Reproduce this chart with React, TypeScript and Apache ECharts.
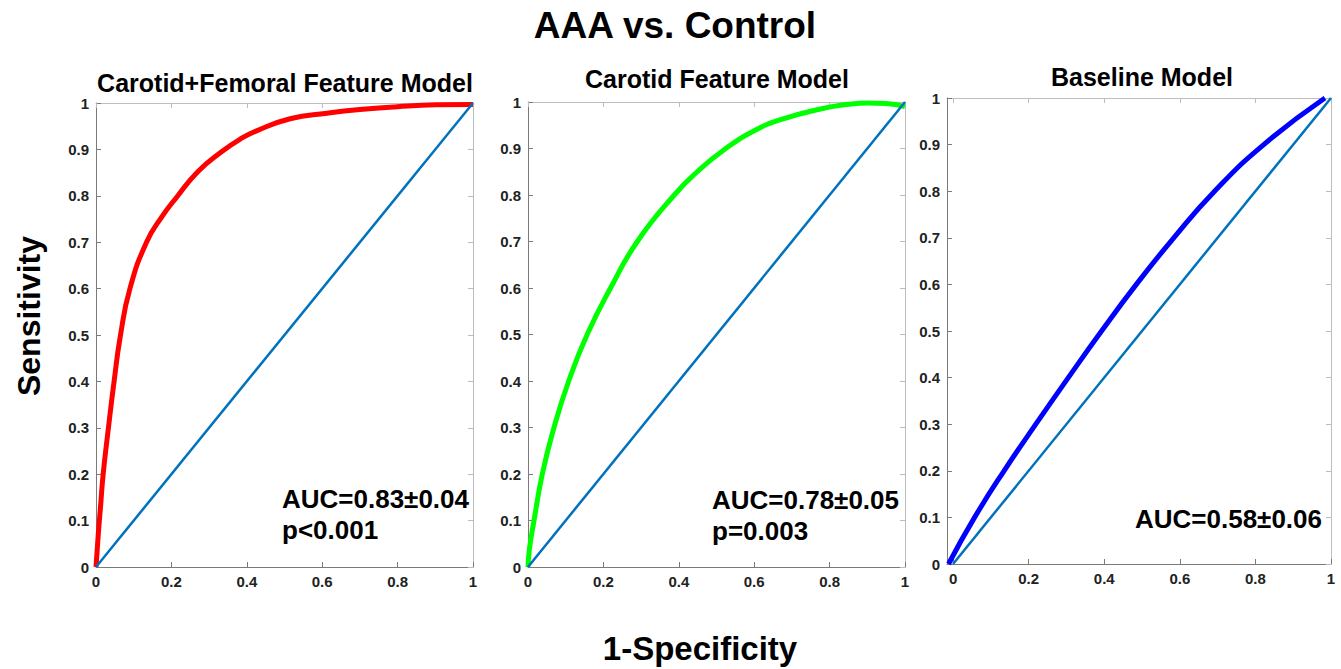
import React, { useEffect, useRef } from "react";
import * as echarts from "echarts";

// ---- data ----
const xTicks = [0, 0.2, 0.4, 0.6, 0.8, 1];
const panelTitles = ["Carotid+Femoral Feature Model", "Carotid Feature Model", "Baseline Model"];
const mainTitle = "AAA vs. Control";
const yAxisName = "Sensitivity";
const xAxisName = "1-Specificity";

const cfFpr = [0, 0.006, 0.012, 0.019, 0.033, 0.048, 0.065, 0.09, 0.134, 0.175, 0.214, 0.27, 0.333, 0.382, 0.426, 0.515, 0.613, 0.7, 0.8, 0.9, 1];
const cfTpr = [0, 0.07, 0.13, 0.2, 0.3, 0.4, 0.5, 0.6, 0.7, 0.755, 0.797, 0.852, 0.895, 0.922, 0.94, 0.966, 0.978, 0.986, 0.992, 0.996, 0.997];

const cFpr = [0, 0.004, 0.016, 0.038, 0.069, 0.108, 0.157, 0.219, 0.29, 0.388, 0.449, 0.521, 0.6, 0.67, 0.776, 0.85, 0.9, 0.95, 1];
const cTpr = [0, 0.04, 0.1, 0.2, 0.3, 0.4, 0.5, 0.6, 0.7, 0.8, 0.85, 0.898, 0.938, 0.962, 0.985, 0.995, 0.998, 0.997, 0.99];

const bFpr = [-0.012, 0.057, 0.135, 0.219, 0.305, 0.393, 0.485, 0.584, 0.692, 0.822, 0.984];
const bTpr = [0, 0.1, 0.2, 0.3, 0.4, 0.5, 0.6, 0.7, 0.8, 0.9, 1.0];

const chanceFpr = [0, 1];
const chanceTpr = [0, 1];

const aucTexts = [
  ["AUC=0.83\u00b10.04", "p<0.001"],
  ["AUC=0.78\u00b10.05", "p=0.003"],
  ["AUC=0.58\u00b10.06"],
];

const zip = (a: number[], b: number[]) => a.map((v, i) => [v, b[i]]);

const FONT = "'Liberation Sans', Arial, Helvetica, sans-serif";

export default function App() {
  const ref = useRef<HTMLDivElement>(null);

  useEffect(() => {
    if (!ref.current) return;
    const chart = echarts.init(ref.current, undefined, { renderer: "svg" });

    const grids = [
      { left: 96, top: 103, width: 377, height: 464 },
      { left: 528, top: 102, width: 377, height: 465 },
      { left: 947, top: 98, width: 384, height: 466 },
    ];
    const xMins = [0, 0, -0.016];
    const curves = [
      { data: zip(cfFpr, cfTpr), color: "#ff0000" },
      { data: zip(cFpr, cTpr), color: "#00ff00" },
      { data: zip(bFpr, bTpr), color: "#0000ff" },
    ];
    const titlePos = [
      [285, 83],
      [717, 79],
      [1142, 77],
    ];
    const aucPos = [
      [282, 499],
      [712, 500],
      [1135, 519],
    ];

    const axisDark = "#7a7a7a";
    const axisLight = "#bdbdbd";
    const labelStyle = { color: "#222", fontWeight: "bold" as const, fontSize: 15, fontFamily: FONT };

    const xAxis: any[] = [];
    const yAxis: any[] = [];
    const series: any[] = [];
    const graphic: any[] = [];

    grids.forEach((_, i) => {
      xAxis.push({
        type: "value", gridIndex: i, min: xMins[i], max: 1, position: "bottom",
        axisLine: { show: true, onZero: false, lineStyle: { color: axisDark, width: 1 } },
        axisTick: { show: true, inside: true, length: 5, customValues: xTicks, lineStyle: { color: axisDark } },
        axisLabel: { customValues: xTicks, margin: 7, ...labelStyle },
        splitLine: { show: false },
      });
      xAxis.push({
        type: "value", gridIndex: i, min: xMins[i], max: 1, position: "top",
        axisLine: { show: true, onZero: false, lineStyle: { color: axisLight, width: 1 } },
        axisTick: { show: true, inside: true, length: 5, customValues: xTicks, lineStyle: { color: axisLight } },
        axisLabel: { show: false },
        splitLine: { show: false },
      });
      yAxis.push({
        type: "value", gridIndex: i, min: 0, max: 1, interval: 0.1, position: "left",
        axisLine: { show: true, onZero: false, lineStyle: { color: axisDark, width: 1 } },
        axisTick: { show: true, inside: true, length: 5, lineStyle: { color: axisDark } },
        axisLabel: { margin: 7, ...labelStyle },
        splitLine: { show: false },
      });
      yAxis.push({
        type: "value", gridIndex: i, min: 0, max: 1, interval: 0.1, position: "right",
        axisLine: { show: true, onZero: false, lineStyle: { color: axisLight, width: 1 } },
        axisTick: { show: true, inside: true, length: 5, lineStyle: { color: axisLight } },
        axisLabel: { show: false },
        splitLine: { show: false },
      });

      series.push({
        type: "line", xAxisIndex: 2 * i, yAxisIndex: 2 * i,
        data: curves[i].data, symbol: "none", smooth: 0.5,
        lineStyle: { color: curves[i].color, width: 5 },
        z: 2,
      });
      series.push({
        type: "line", xAxisIndex: 2 * i, yAxisIndex: 2 * i,
        data: zip(chanceFpr, chanceTpr), symbol: "none",
        lineStyle: { color: "#0072BD", width: 2.5 },
        z: 3,
      });

      graphic.push({
        type: "text", x: titlePos[i][0], y: titlePos[i][1],
        style: { text: panelTitles[i], fill: "#000", font: `bold 25px ${FONT}`, textAlign: "center", textVerticalAlign: "middle" },
      });
      aucTexts[i].forEach((t, j) => {
        graphic.push({
          type: "text", x: aucPos[i][0], y: aucPos[i][1] + j * 31,
          style: { text: t, fill: "#000", font: `bold 26px ${FONT}`, textAlign: "left", textVerticalAlign: "middle" },
        });
      });
    });

    graphic.push({
      type: "text", x: 675, y: 25,
      style: { text: mainTitle, fill: "#000", font: `bold 37px ${FONT}`, textAlign: "center", textVerticalAlign: "middle" },
    });
    graphic.push({
      type: "text", x: 29, y: 316, rotation: Math.PI / 2,
      style: { text: yAxisName, fill: "#000", font: `bold 32px ${FONT}`, textAlign: "center", textVerticalAlign: "middle" },
    });
    graphic.push({
      type: "text", x: 700, y: 648,
      style: { text: xAxisName, fill: "#000", font: `bold 33px ${FONT}`, textAlign: "center", textVerticalAlign: "middle" },
    });

    chart.setOption({
      animation: false,
      backgroundColor: "#ffffff",
      grid: grids,
      xAxis,
      yAxis,
      series,
      graphic,
    });

    return () => chart.dispose();
  }, []);

  return (
    <div
      ref={ref}
      style={{ position: "absolute", left: 0, top: 0, width: 1341, height: 669, background: "#fff" }}
    />
  );
}
